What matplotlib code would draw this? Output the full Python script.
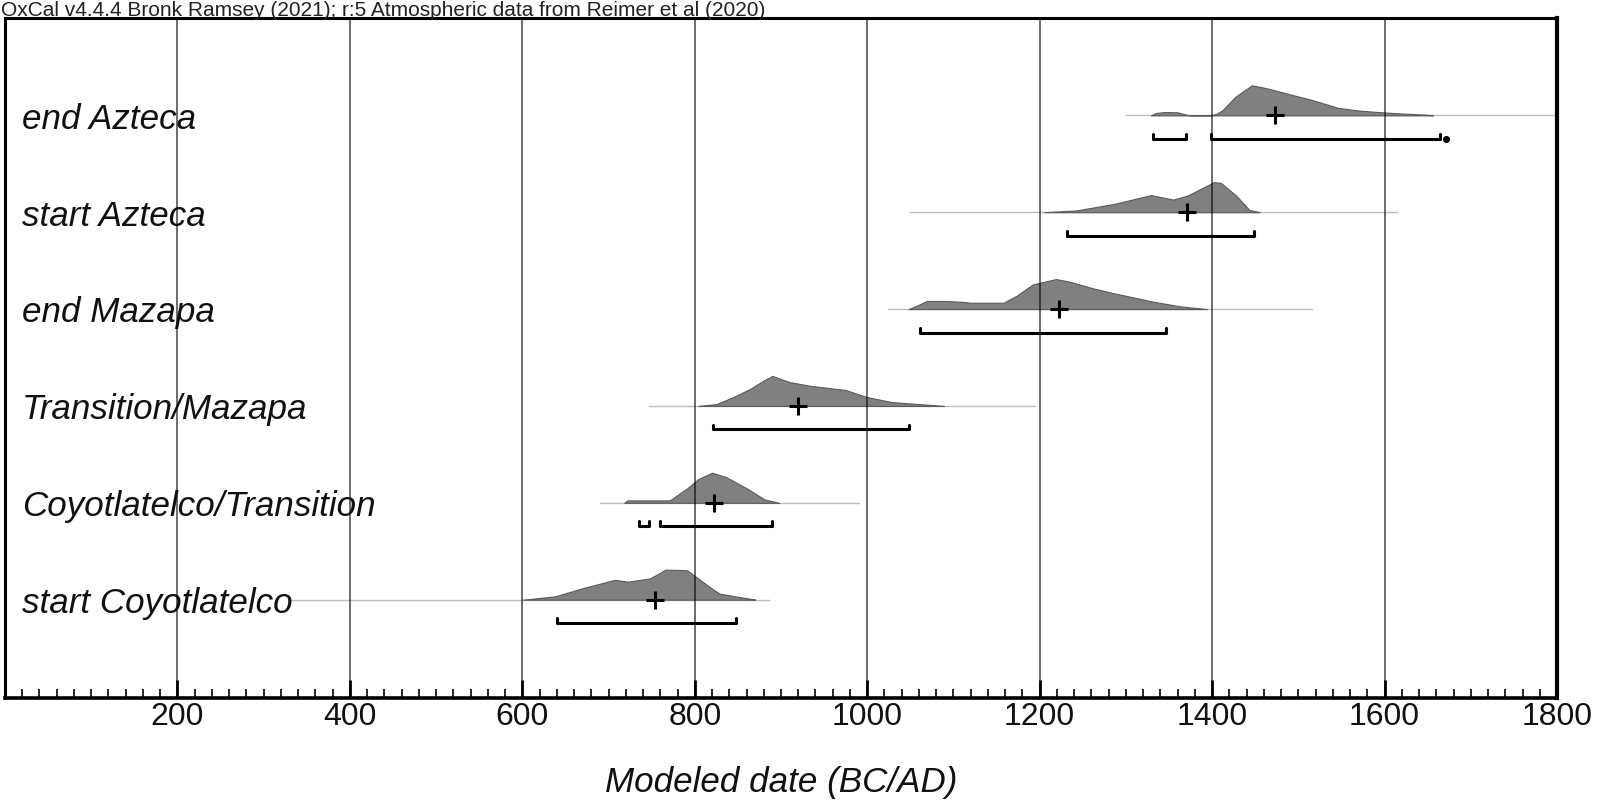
import matplotlib
matplotlib.use("Agg")
import matplotlib.pyplot as plt
from matplotlib.ticker import MultipleLocator, FixedLocator

plt.rcParams['font.family'] = ['Liberation Sans', 'DejaVu Sans']

# ---------------- data ----------------
labels = ["end Azteca", "start Azteca", "end Mazapa", "Transition/Mazapa",
          "Coyotlatelco/Transition", "start Coyotlatelco"]

line_start = [1300, 1050, 1024, 747, 690, 329]
line_end = [1800, 1614, 1516, 1195, 991, 886]

dens_x = [
    [1329, 1335, 1345, 1360, 1370, 1375, 1398, 1405, 1412, 1427, 1446, 1462, 1477, 1497, 1516, 1546, 1570, 1592, 1620, 1650, 1656],
    [1205, 1243, 1287, 1329, 1355, 1371, 1385, 1402, 1410, 1428, 1443, 1455],
    [1048, 1058, 1069, 1090, 1111, 1120, 1158, 1173, 1192, 1219, 1235, 1262, 1287, 1310, 1331, 1363, 1394],
    [804, 825, 845, 865, 880, 890, 909, 934, 975, 999, 1028, 1056, 1089],
    [718, 722, 771, 792, 804, 820, 836, 861, 881, 898],
    [601, 638, 671, 707, 723, 748, 757, 766, 780, 791, 801, 821, 829, 866, 870],
]
dens_y = [
    [0.0, 0.08, 0.11, 0.10, 0.02, 0.0, 0.0, 0.05, 0.17, 0.62, 1.0, 0.91, 0.80, 0.65, 0.51, 0.25, 0.16, 0.11, 0.06, 0.02, 0.0],
    [0.0, 0.06, 0.28, 0.57, 0.42, 0.55, 0.75, 1.0, 0.98, 0.55, 0.08, 0.0],
    [0.0, 0.12, 0.27, 0.27, 0.24, 0.21, 0.21, 0.44, 0.82, 1.0, 0.91, 0.69, 0.52, 0.38, 0.25, 0.09, 0.0],
    [0.0, 0.06, 0.30, 0.58, 0.85, 1.0, 0.80, 0.67, 0.53, 0.30, 0.13, 0.07, 0.0],
    [0.0, 0.08, 0.08, 0.50, 0.79, 1.0, 0.86, 0.47, 0.11, 0.0],
    [0.0, 0.11, 0.39, 0.66, 0.60, 0.71, 0.85, 1.0, 0.99, 0.98, 0.77, 0.345, 0.20, 0.02, 0.0],
]

means = [1473, 1371, 1223, 920, 822, 754]

ranges = [
    [(1331, 1370), (1399, 1664)],
    [(1232, 1449)],
    [(1061, 1346)],
    [(821, 1048)],
    [(735, 747), (760, 889)],
    [(640, 848)],
]
range_dots = [1671, None, None, None, None, None]

major_ticks = [200, 400, 600, 800, 1000, 1200, 1400, 1600, 1800]
title = "OxCal v4.4.4 Bronk Ramsey (2021); r:5 Atmospheric data from Reimer et al (2020)"
xlabel = "Modeled date (BC/AD)"

# ---------------- figure ----------------
W, H = 1599, 804
fig = plt.figure(figsize=(W / 100, H / 100), dpi=100)
left_px, right_px, top_px, bot_px = 5, 1557, 18.5, 698.5
ax = fig.add_axes([left_px / W, 1 - bot_px / H, (right_px - left_px) / W, (bot_px - top_px) / H])

ax.set_xlim(0, 1800)
ax.set_ylim(-1.01, 6.01)

n = len(labels)
hscale = 0.31
roff = 0.243
hook = 0.05

for i in range(n):
    y0 = n - 1 - i
    ax.plot([line_start[i], line_end[i]], [y0, y0], color='#bdbdbd', lw=1.0, zorder=1)
    ax.fill_between(dens_x[i], y0, [y0 + v * hscale for v in dens_y[i]],
                    facecolor='#808080', edgecolor='#5a5a5a', lw=0.8, zorder=2)
    ax.plot([means[i]], [y0], marker='+', color='black', ms=12.5, mew=2.2, zorder=5)
    yr = y0 - roff
    for (a, b) in ranges[i]:
        ax.plot([a, a, b, b], [yr + hook, yr, yr, yr + hook], color='black', lw=2.2,
                solid_joinstyle='round', solid_capstyle='round', zorder=5)
    if range_dots[i] is not None:
        ax.plot([range_dots[i]], [yr], marker='o', color='black', ms=4, zorder=5)
    ax.text(20, y0 - 0.03, labels[i], fontsize=25.2, style='italic', va='center', ha='left',
            color='#111111', zorder=6)

# grid lines
for t in major_ticks[:-1]:
    ax.axvline(t, color='black', alpha=0.62, lw=1.3, zorder=4)

ax.xaxis.set_major_locator(FixedLocator(major_ticks))
ax.xaxis.set_minor_locator(MultipleLocator(20))
ax.set_yticks([])
ax.tick_params(axis='x', which='major', direction='in', length=13, width=2.0,
               labelsize=23, pad=2.5, colors='black', top=False)
ax.tick_params(axis='x', which='minor', direction='in', length=6.5, width=1.2, top=False)
for lab in ax.get_xticklabels():
    lab.set_color('#111111')

for s in ['left', 'top']:
    ax.spines[s].set_linewidth(2.2)
ax.spines['right'].set_linewidth(3.0)
ax.spines['bottom'].set_linewidth(2.6)

fig.text(0.5 * (left_px + right_px) / W, 1 - 783 / H, xlabel, fontsize=25.2, style='italic',
         ha='center', va='center', color='#111111')
fig.text(1 / W, 1 - 15.5 / H, title, fontsize=15, ha='left', va='baseline', color='#222222')

fig.savefig("out.png", dpi=100)
